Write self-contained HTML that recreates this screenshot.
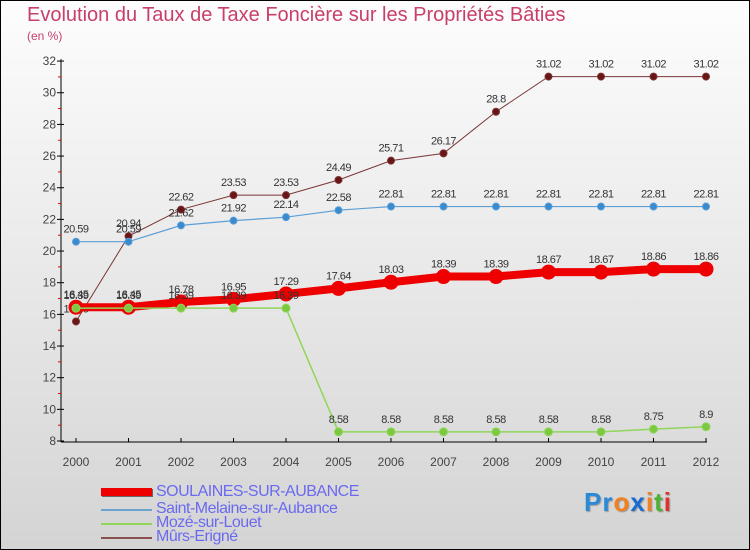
<!DOCTYPE html>
<html><head><meta charset="utf-8"><style>
body{margin:0}
#c{width:748px;height:548px;border:1px solid #000;position:relative;background:linear-gradient(#fdfdfd,#d4d4d4);font-family:"Liberation Sans",sans-serif;overflow:hidden}
.t{position:absolute;color:#c8406a}
.lg{position:absolute;left:155px;color:#6a6af0;font-size:16px;letter-spacing:-0.5px}
.ls{position:absolute;left:100px;width:51px}
</style></head><body>
<div id="c">
<div class="t" style="left:26px;top:3px;font-size:20px">Evolution du Taux de Taxe Foncière sur les Propriétés Bâties</div>
<div class="t" style="left:26px;top:28px;font-size:12px">(en %)</div>
<svg id="s" width="748" height="548" style="position:absolute;left:0;top:0"></svg>
<div class="ls" style="top:487px;height:8px;background:#e00;box-shadow:1px 1px 0 #666"></div>
<div class="lg" style="top:482px">SOULAINES-SUR-AUBANCE</div>
<div class="ls" style="top:508px;height:2px;background:#6fa3cf"></div>
<div class="lg" style="top:499px">Saint-Melaine-sur-Aubance</div>
<div class="ls" style="top:522px;height:2px;background:#8fd65a"></div>
<div class="lg" style="top:513px">Mozé-sur-Louet</div>
<div class="ls" style="top:536px;height:2px;background:#8b5050"></div>
<div class="lg" style="top:527px">Mûrs-Erigné</div>
<div style="position:absolute;left:583px;top:486px;font-size:26px;font-weight:bold;letter-spacing:1px;text-shadow:1px 1px 1px #999"><span style="color:#2a8ad8">Pr</span><span style="color:#f08020">o</span><span style="color:#1a6ad0">x</span><span style="color:#f08020">i</span><span style="color:#50b030">t</span><span style="color:#e03030">i</span></div>
</div>
<script>
const years=[2000,2001,2002,2003,2004,2005,2006,2007,2008,2009,2010,2011,2012];
const soulaines=[16.45,16.45,16.78,16.95,17.29,17.64,18.03,18.39,18.39,18.67,18.67,18.86,18.86];
const melaine=[20.59,20.59,21.62,21.92,22.14,22.58,22.81,22.81,22.81,22.81,22.81,22.81,22.81];
const moze=[16.39,16.39,16.39,16.39,16.39,8.58,8.58,8.58,8.58,8.58,8.58,8.75,8.9];
const murs=[15.55,20.94,22.62,23.53,23.53,24.49,25.71,26.17,28.8,31.02,31.02,31.02,31.02];
const yTicks=[8,10,12,14,16,18,20,22,24,26,28,30,32];
const s=document.getElementById('s'),NS='http://www.w3.org/2000/svg';
const X=i=>75+i*52.5, Y=v=>440-(v-8)*15.83;
function el(t,a,n){const e=document.createElementNS(NS,t);for(const k in a)e.setAttribute(k,a[k]);


s.appendChild(e);return e;}
el('line',{x1:60,y1:Y(32)-2,x2:60,y2:441,stroke:'#000'},'y-axis');
el('line',{x1:60,y1:441,x2:706,y2:441,stroke:'#000'},'x-axis');
for(let v=8;v<=32;v++){
 if(v%2){el('line',{x1:57,x2:60,y1:Y(v),y2:Y(v),stroke:'#e00'},'y-minor-tick');}
 else{el('line',{x1:56,x2:63,y1:Y(v),y2:Y(v),stroke:'#000'},'y-tick');}
}
yTicks.forEach(v=>{const t=el('text',{x:55,y:Y(v)+4,'text-anchor':'end','font-size':12,fill:'#444'},'y-tick-label');t.textContent=v;});
years.forEach((y,i)=>{el('line',{x1:X(i),x2:X(i),y1:437,y2:441,stroke:'#000'},'x-tick');
 const t=el('text',{x:X(i),y:465,'text-anchor':'middle','font-size':12,fill:'#444'},'x-tick-label');t.textContent=y;});
function series(d,col,w,r,fill,name){
 el('polyline',{points:d.map((v,i)=>X(i)+','+Y(v)).join(' '),fill:'none',stroke:col,'stroke-width':w},name+'-line');
 d.forEach((v,i)=>{el('circle',{cx:X(i),cy:Y(v),r:r,fill:fill,stroke:col,'stroke-width':1},name+'-point');
  const t=el('text',{x:X(i),y:Y(v)-9,'text-anchor':'middle','font-size':11,fill:'#333','letter-spacing':'-0.5'},name+'-value');t.textContent=v;});
}
series(murs,'#7a3535',1,3.5,'#6a1515','murs');
series(melaine,'#5b9fd6',1.2,3.5,'#3a8ad0','melaine');
series(soulaines,'#e00',8,7,'#e00','soulaines');
series(moze,'#8fd65a',1.5,4,'#7cc840','moze');
</script>
</body></html>
